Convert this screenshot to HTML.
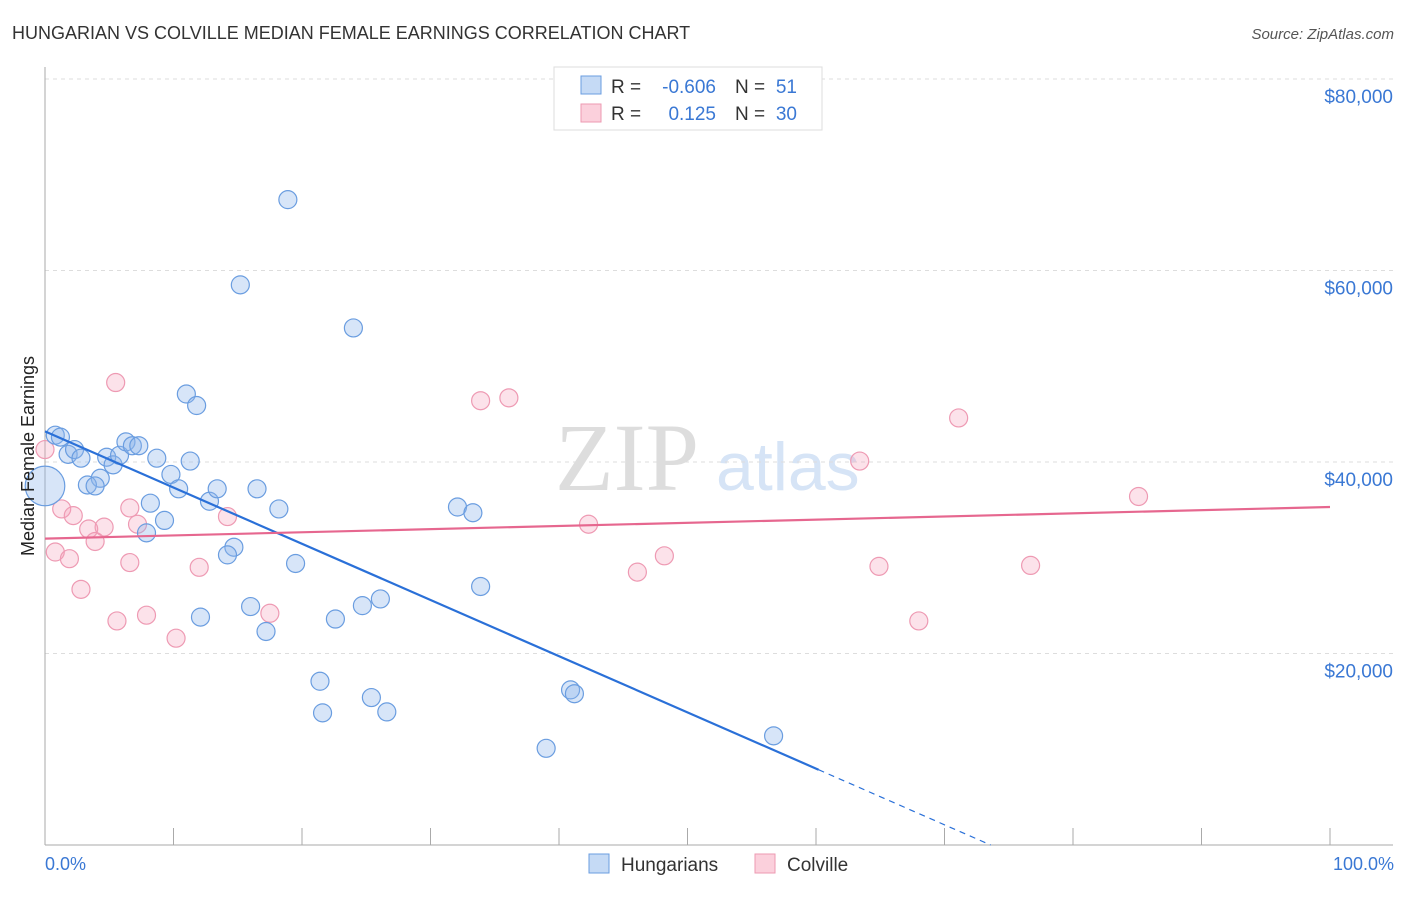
<!DOCTYPE html>
<html><head><meta charset="utf-8"><style>
body{margin:0;background:#fff;font-family:"Liberation Sans",sans-serif}
</style></head><body>
<svg width="1406" height="892" viewBox="0 0 1406 892" xmlns="http://www.w3.org/2000/svg">
<text x="12" y="39" font-size="18" fill="#333">HUNGARIAN VS COLVILLE MEDIAN FEMALE EARNINGS CORRELATION CHART</text>
<text x="1394" y="39" font-size="15" fill="#555" font-style="italic" text-anchor="end">Source: ZipAtlas.com</text>
<text x="555" y="490" font-size="96" fill="#ddd" font-family="Liberation Serif,serif">ZIP</text>
<text x="716" y="490" font-size="68" fill="#d6e4f6">atlas</text>
<g id="grid"></g>
<g id="axes"></g>
<g id="marks"></g>
<text transform="translate(34,456) rotate(-90)" font-size="18" fill="#222" text-anchor="middle">Median Female Earnings</text>
<text x="45" y="870" font-size="18" fill="#3a78d4">0.0%</text>
<text x="1394" y="870" font-size="18" fill="#3a78d4" text-anchor="end">100.0%</text>
<g>
<rect x="554" y="67" width="268" height="63" fill="#fff" stroke="#ddd"/>
<rect x="581" y="76" width="20" height="18" fill="#c5daf5" stroke="#6a9de0"/>
<rect x="581" y="104" width="20" height="18" fill="#fbd0dc" stroke="#ec9ab2"/>
<text y="93" font-size="19" fill="#333"><tspan x="611">R =</tspan><tspan x="716" text-anchor="end" fill="#3a78d4">-0.606</tspan><tspan x="735">N =</tspan><tspan x="797" text-anchor="end" fill="#3a78d4">51</tspan></text>
<text y="120" font-size="19" fill="#333"><tspan x="611">R =</tspan><tspan x="716" text-anchor="end" fill="#3a78d4">0.125</tspan><tspan x="735">N =</tspan><tspan x="797" text-anchor="end" fill="#3a78d4">30</tspan></text>
</g>
<g><rect x="589" y="854" width="20" height="19" fill="#c5daf5" stroke="#6a9de0"/><text x="621" y="871" font-size="19" fill="#333">Hungarians</text></g>
<g><rect x="755" y="854" width="20" height="19" fill="#fbd0dc" stroke="#ec9ab2"/><text x="787" y="871" font-size="19" fill="#333">Colville</text></g>
</svg>
<script>
const yTicks=[20000,40000,60000,80000];
const yTickLabels=["$20,000","$40,000","$60,000","$80,000"];
const xTicks=[0,10,20,30,40,50,60,70,80,90,100];
const hunX=[18.9,15.2,24.0,11.0,11.8,0.8,1.2,1.8,2.3,2.8,4.8,5.3,5.8,6.3,6.8,7.3,8.7,9.8,11.3,4.3,3.3,3.9,0,10.4,8.2,12.8,13.4,16.5,9.3,7.9,18.2,14.7,14.2,32.1,33.3,19.5,33.9,16.0,12.1,17.2,22.6,24.7,26.1,21.4,21.6,25.4,26.6,40.9,41.2,39.0,56.7];
const hunY=[67.4,58.5,54.0,47.1,45.9,42.8,42.6,40.8,41.3,40.4,40.5,39.7,40.7,42.1,41.7,41.7,40.4,38.7,40.1,38.3,37.6,37.5,37.5,37.2,35.7,35.9,37.2,37.2,33.9,32.6,35.1,31.1,30.3,35.3,34.7,29.4,27.0,24.9,23.8,22.3,23.6,25.0,25.7,17.1,13.8,15.4,13.9,16.2,15.8,10.1,11.4];
const hunSize=[1,1,1,1,1,1,1,1,1,1,1,1,1,1,1,1,1,1,1,1,1,1,2.2,1,1,1,1,1,1,1,1,1,1,1,1,1,1,1,1,1,1,1,1,1,1,1,1,1,1,1,1];
const colX=[5.5,33.9,36.1,71.1,0,63.4,85.1,1.3,2.2,6.6,14.2,7.2,3.4,4.6,3.9,42.3,0.8,1.9,6.6,12.0,48.2,46.1,64.9,76.7,2.8,17.5,5.6,7.9,10.2,68.0];
const colY=[48.3,46.4,46.7,44.6,41.3,40.1,36.4,35.1,34.4,35.2,34.3,33.5,33.0,33.2,31.7,33.5,30.6,29.9,29.5,29.0,30.2,28.5,29.1,29.2,26.7,24.2,23.4,24.0,21.6,23.4];
const hunTrend=[43.2,-0.587];
const colTrend=[32.0,0.033];
const NS="http://www.w3.org/2000/svg";
const X=v=>45+v*12.85;
const Y=v=>845-v*191.5/20000;
function mk(p,t,a){const e=document.createElementNS(NS,t);for(const k in a)e.setAttribute(k,a[k]);p.appendChild(e);return e;}
const grid=document.getElementById('grid'),axes=document.getElementById('axes'),marks=document.getElementById('marks');
yTicks.forEach((t,i)=>{
 const l=mk(grid,'line',{x1:45,x2:1393,y1:Y(t),y2:Y(t),stroke:'#ddd','stroke-dasharray':'4,4'});
 
 
 const tx=mk(grid,'text',{x:1393,y:Y(t)+24,'font-size':19,fill:'#3a78d4','text-anchor':'end'});
 tx.textContent=yTickLabels[i];
 
 
});
const ya=mk(axes,'line',{x1:45,x2:45,y1:67,y2:845,stroke:'#aaa'});


const xa=mk(axes,'line',{x1:45,x2:1393,y1:845,y2:845,stroke:'#aaa'});


xTicks.forEach(t=>{
 const l=mk(axes,'line',{x1:X(t),x2:X(t),y1:828,y2:845,stroke:'#aaa'});
 
 
});
colX.forEach((x,i)=>{
 const c=mk(marks,'circle',{cx:X(x),cy:Y(colY[i]*1000),r:9,fill:'rgba(244,160,185,0.3)',stroke:'#ee9ab3','stroke-width':1.2});
 
 
});
hunX.forEach((x,i)=>{
 const c=mk(marks,'circle',{cx:X(x),cy:Y(hunY[i]*1000),r:9*hunSize[i],fill:'rgba(140,180,235,0.35)',stroke:'#6a9de0','stroke-width':1.2});
 
 
});
const hy=x=>(hunTrend[0]+hunTrend[1]*x)*1000;
const xEnd=60.2, xZero=-hunTrend[0]/hunTrend[1];
const hl=mk(marks,'line',{x1:X(0),y1:Y(hy(0)),x2:X(xEnd),y2:Y(hy(xEnd)),stroke:'#2a70d8','stroke-width':2.2});


const hd=mk(marks,'line',{x1:X(xEnd),y1:Y(hy(xEnd)),x2:X(xZero),y2:Y(hy(xZero)),stroke:'#2a70d8','stroke-width':1.2,'stroke-dasharray':'6,5'});


const cy=x=>(colTrend[0]+colTrend[1]*x)*1000;
const cl=mk(marks,'line',{x1:X(0),y1:Y(cy(0)),x2:X(100),y2:Y(cy(100)),stroke:'#e6678f','stroke-width':2.2});


</script>
</body></html>
